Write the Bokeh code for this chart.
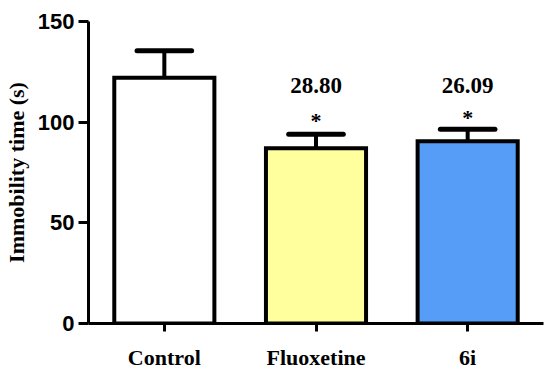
from bokeh.plotting import figure
from bokeh.models import FixedTicker, Range1d, ColumnDataSource, LabelSet
from bokeh.embed import file_html
from bokeh.resources import INLINE

categories = ["Control", "Fluoxetine", "6i"]
means = [122, 87, 90.5]
errors = [13.5, 7, 6]
colors = ["#FFFFFF", "#FFFF9E", "#559DF7"]
ann_values = ["", "28.80", "26.09"]
ann_y = [None, 118, 118]
star_y = [None, 101, 102.5]
y_ticks = [0, 50, 100, 150]

xs = [i + 0.5 for i in range(len(categories))]
bar_w = 0.66
cap_w = 0.36

p = figure(width=550, height=372, output_backend="svg", toolbar_location=None,
           x_range=Range1d(0, 3), y_range=Range1d(0, 150),
           min_border_left=88, min_border_right=7, min_border_top=21, min_border_bottom=48)
p.outline_line_color = None
p.xgrid.visible = False
p.ygrid.visible = False

# error bars (upper only)
tops = [m + e for m, e in zip(means, errors)]
p.segment(x0=xs, y0=means, x1=xs, y1=tops, line_color="black", line_width=4)
p.segment(x0=[x - cap_w / 2 for x in xs], y0=tops, x1=[x + cap_w / 2 for x in xs], y1=tops,
          line_color="black", line_width=5, line_cap="round")

p.vbar(x=xs, top=means, bottom=0, width=bar_w, fill_color=colors,
       line_color="black", line_width=4, line_join="miter")

# annotations
ax = [xs[i] for i in range(3) if ann_y[i] is not None]
src = ColumnDataSource(dict(
    x=ax,
    y=[ann_y[i] for i in range(3) if ann_y[i] is not None],
    t=[ann_values[i] for i in range(3) if ann_y[i] is not None],
    sy=[star_y[i] for i in range(3) if star_y[i] is not None],
    s=["*"] * len(ax),
))
p.add_layout(LabelSet(x="x", y="y", text="t", source=src, text_align="center",
                      text_baseline="middle", text_font="Liberation Serif",
                      text_font_style="bold", text_font_size="23px", text_color="black"))
p.add_layout(LabelSet(x="x", y="sy", text="s", source=src, text_align="center",
                      text_baseline="middle", text_font="Liberation Serif",
                      text_font_style="bold", text_font_size="22px", text_color="black"))

# y axis
ya = p.yaxis[0]
ya.ticker = FixedTicker(ticks=y_ticks)
ya.axis_line_width = 3
ya.major_tick_line_width = 3
ya.major_tick_out = 10
ya.major_tick_in = 0
ya.minor_tick_out = 0
ya.minor_tick_in = 0
ya.major_label_text_font = "Liberation Sans"
ya.major_label_text_font_style = "bold"
ya.major_label_text_font_size = "22px"
ya.major_label_text_color = "black"
ya.major_label_standoff = 4
ya.axis_label = "Immobility time (s)"
ya.axis_label_text_font = "Liberation Serif"
ya.axis_label_text_font_style = "bold"
ya.axis_label_text_font_size = "22px"
ya.axis_label_text_color = "black"
ya.axis_label_standoff = 6

# x axis
xa = p.xaxis[0]
xa.ticker = FixedTicker(ticks=xs)
xa.major_label_overrides = {x: c for x, c in zip(xs, categories)}
xa.axis_line_width = 3
xa.major_tick_line_width = 3
xa.major_tick_out = 8
xa.major_tick_in = 0
xa.minor_tick_out = 0
xa.minor_tick_in = 0
xa.major_label_text_font = "Liberation Serif"
xa.major_label_text_font_style = "bold"
xa.major_label_text_font_size = "22px"
xa.major_label_text_color = "black"
xa.major_label_standoff = 13

open("out.html", "w").write(file_html(p, INLINE))
